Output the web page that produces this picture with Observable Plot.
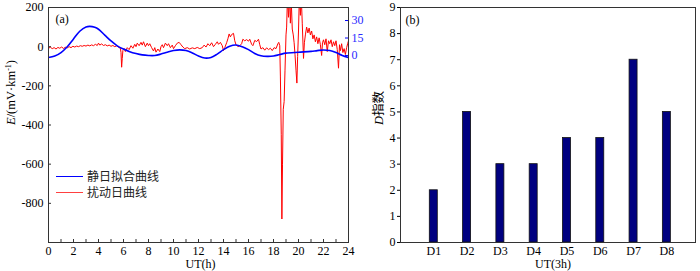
<!DOCTYPE html>
<html><head><meta charset="utf-8">
<script src="https://cdn.jsdelivr.net/npm/d3@7"></script>
<script src="https://cdn.jsdelivr.net/npm/@observablehq/plot@0.6"></script>
<style>
body{margin:0;background:#fff;}
#wrap{position:relative;width:700px;height:271px;overflow:hidden;background:#fff;}
#a,#b{position:absolute;top:0;}
#a{left:0;z-index:2;}
#b{left:360px;z-index:1;}
#wrap svg, #wrap svg text{font-family:"Liberation Serif","Times New Roman",serif !important;}
.leg{position:absolute;left:56px;z-index:3;font-family:"Noto Sans CJK SC";font-size:12px;line-height:16px;color:#222;}
.leg div{display:flex;align-items:center;height:16px;}
.leg span.sw{display:inline-block;width:27px;height:0;margin-right:4px;}
</style></head>
<body>
<div id="wrap"><div id="a"></div><div id="b"></div>
<div class="leg" style="top:168px">
 <div><span class="sw" style="border-top:1.5px solid #0000ff"></span><span id="l1"></span></div>
 <div><span class="sw" style="border-top:1.5px solid #ff4040"></span><span id="l2"></span></div>
</div>
</div>
<script>
// ---------- Data ----------
const legendLabels = ["静日拟合曲线", "扰动日曲线"];
const panelLabels = ["(a)", "(b)"];
const xTitleA = "UT(h)";
const xTitleB = "UT(3h)";
const xTicksA = [0,2,4,6,8,10,12,14,16,18,20,22,24];
const xMinorA = d3.range(0, 25, 1);
const yTicksA = [200, 0, -200, -400, -600, -800];
const yDomainA = [-1000, 200];
const rightTicks = [0, 15, 30];

// quiet-day fitted curve (right axis units): hour, value
const quietHour = [0,0.5,1,1.5,2,2.5,3,3.3,3.7,4,4.5,5,5.5,6,6.5,7,7.5,8,8.5,9,9.5,10,10.5,11,11.5,12,12.5,13,13.5,14,14.5,15,15.5,16,16.5,17,17.5,18,18.5,19,20,21,21.5,22,22.5,23,23.5,24];
const quietVal  = [-1.7,-0.5,2.5,7.5,14.2,20.8,24.5,25,24.2,22.5,17.5,12.5,8.3,5.5,3.3,1.7,0.5,0,0,1.2,2.8,4.2,4.8,4.2,2.2,-0.5,-2.2,-1.7,1.2,5,8,9,7.5,5,1.7,-0.3,-0.8,-0.5,0.8,2,2.8,3.5,4.2,4.7,4.2,2.5,0,-1.7];

// disturbed-day curve (mV/km): hour, value
const distHour = [0,0.15,0.3,0.45,0.6,0.75,0.9,1.05,1.2,1.35,1.5,1.65,1.8,1.95,2.1,2.25,2.4,2.55,2.7,2.85,3.0,3.15,3.3,3.45,3.6,3.75,3.9,4.0,4.1,4.25,4.4,4.55,4.7,4.85,5.0,5.15,5.3,5.45,5.6,5.75,5.8,5.85,5.9,5.95,6.05,6.15,6.3,6.45,6.6,6.75,6.9,7.0,7.1,7.25,7.4,7.5,7.6,7.75,7.9,8.0,8.1,8.25,8.4,8.5,8.6,8.75,8.9,9.0,9.1,9.2,9.35,9.5,9.6,9.75,9.9,10.0,10.15,10.3,10.45,10.6,10.75,10.9,11.1,11.3,11.5,11.7,11.9,12.1,12.3,12.45,12.6,12.75,12.9,13.05,13.2,13.35,13.5,13.6,13.75,13.9,14.0,14.1,14.25,14.35,14.45,14.55,14.65,14.8,14.9,15.0,15.15,15.3,15.45,15.55,15.7,15.85,16.0,16.1,16.25,16.35,16.5,16.65,16.8,16.9,17.0,17.15,17.3,17.45,17.6,17.75,17.9,18.05,18.2,18.35,18.42,18.5,18.55,18.62,18.67,18.72,18.78,18.85,18.92,19.0,19.05,19.12,19.2,19.28,19.35,19.42,19.5,19.58,19.65,19.72,19.8,19.87,19.93,20.0,20.07,20.15,20.22,20.3,20.4,20.47,20.55,20.65,20.75,20.85,20.95,21.05,21.15,21.25,21.35,21.45,21.55,21.65,21.75,21.85,21.92,22.0,22.1,22.2,22.3,22.4,22.5,22.6,22.7,22.8,22.9,23.0,23.1,23.2,23.28,23.36,23.45,23.55,23.65,23.75,23.85,23.93,24.0];
const distVal = [-8,-3,-10,-5,-12,-4,-8,-2,-9,-3,-6,0,-5,2,-2,3,0,5,2,6,3,8,4,9,5,12,6,18,8,14,6,10,4,8,2,6,0,4,-3,-8,-30,-105,-60,-20,-10,-25,-5,-15,5,-8,12,0,18,5,22,8,25,0,18,5,15,-5,-22,-5,-28,-12,-25,0,10,-5,18,5,15,-5,8,-10,5,18,22,10,-2,-10,-5,-12,-6,-10,-4,-10,-5,8,-2,15,5,20,0,12,25,12,22,5,-20,-5,20,40,65,50,62,68,30,10,0,5,15,38,30,36,28,38,12,5,32,26,38,10,-12,-5,-18,-6,-15,-8,-20,-5,-10,15,22,5,-150,-450,-880,-600,-320,-280,-120,60,100,260,150,260,120,240,90,60,20,-40,-120,-186,-50,80,260,160,260,120,-60,20,60,100,70,95,60,80,40,60,25,50,15,45,10,-45,20,35,10,40,-25,30,15,35,0,25,5,30,-15,-110,10,-20,15,-30,-10,-40,-5,15,30];

// panel (b)
const dCats = ["D1","D2","D3","D4","D5","D6","D7","D8"];
const dVals = [2,5,3,3,4,4,7,5];
const yTicksB = [0,1,2,3,4,5,6,7,8,9];

// ---------- Build ----------
const quiet = quietHour.map((h,i)=>({h, r: quietVal[i]}));
const dist = distHour.map((h,i)=>({h, v: distVal[i]}));
const bars = dCats.map((c,i)=>({c, i: i+1, v: dVals[i]}));

// right axis (quiet curve) mapped onto left scale
const R0 = -45, RK = 5.95;
const toLeft = r => R0 + RK*r;

const font = {fontSize: "12px", color: "black", background: "transparent", overflow: "visible"};

const WA = 372, HA = 271, mLA = 48, mRA = 24, mTA = 7, mBA = 29;
const innerWA = WA - mLA - mRA, innerHA = HA - mTA - mBA;

const plotA = Plot.plot({
  width: WA, height: HA, marginLeft: mLA, marginRight: mRA, marginTop: mTA, marginBottom: mBA,
  style: font,
  x: {domain: [0, 24]},
  y: {domain: yDomainA},
  marks: [
    Plot.line(dist, {x: "h", y: "v", stroke: "#ff0000", strokeWidth: 1, clip: true}),
    Plot.line(quiet, {x: "h", y: d => toLeft(d.r), stroke: "#0000ff", strokeWidth: 1.6, curve: "catmull-rom", clip: true}),
    Plot.frame({stroke: "#333", strokeWidth: 1}),
    Plot.tickX(xMinorA, {x: d => d, insetTop: innerHA - 3, stroke: "#333"}),
    Plot.tickY(yTicksA, {y: d => d, insetRight: innerWA - 3, stroke: "#333"}),
    Plot.tickY(rightTicks.map(toLeft), {y: d => d, insetLeft: innerWA - 3, stroke: "#0000ff"}),
    Plot.axisX({ticks: xTicksA, tickSize: 0, tickPadding: 4, tickFormat: d => d, label: null, fontSize: 12}),
    Plot.axisY({ticks: yTicksA, tickSize: 0, tickPadding: 5, tickFormat: d => d, label: null, fontSize: 12}),
    Plot.axisY({anchor: "right", ticks: rightTicks.map(toLeft), tickSize: 0, tickPadding: 3, tickFormat: (d,i) => rightTicks[i], label: null, color: "#2a2aff", fontSize: 12}),
    Plot.text([panelLabels[0]], {frameAnchor: "top-left", dx: 7, dy: 12, textAnchor: "start", lineAnchor: "middle", fontSize: 12}),
    Plot.text([xTitleA], {frameAnchor: "bottom", dx: 2, dy: 22, lineAnchor: "middle", fontSize: 12}),
    Plot.text(["YTITLE_A"], {frameAnchor: "left", dx: -38, rotate: -90, lineAnchor: "middle", fontSize: 12.5})
  ]
});
document.getElementById("a").appendChild(plotA);

const WB = 340, HB = 271, mLB = 40, mRB = 5, mTB = 7, mBB = 29;
const plotB = Plot.plot({
  width: WB, height: HB, marginLeft: mLB, marginRight: mRB, marginTop: mTB, marginBottom: mBB,
  style: font,
  x: {domain: [0, 8.86]},
  y: {domain: [0, 9]},
  marks: [
    Plot.rect(bars, {x1: d => d.i - 0.12, x2: d => d.i + 0.12, y1: 0, y2: "v", fill: "#000080", stroke: "#111", strokeWidth: 0.8}),
    Plot.frame({stroke: "#333", strokeWidth: 1}),
    Plot.axisY({ticks: yTicksB, tickSize: 3, tickPadding: 2, tickFormat: d => d, label: null, fontSize: 12}),
    Plot.axisX({ticks: bars.map(d => d.i), tickSize: 0, tickPadding: 4, tickFormat: (d,i) => dCats[i], label: null, fontSize: 12}),
    Plot.text([panelLabels[1]], {frameAnchor: "top-left", dx: 5, dy: 13, textAnchor: "start", lineAnchor: "middle", fontSize: 12}),
    Plot.text([xTitleB], {frameAnchor: "bottom", dx: 5, dy: 22, lineAnchor: "middle", fontSize: 12}),
    Plot.text(["YTITLE_B"], {frameAnchor: "left", dx: -22, rotate: -90, lineAnchor: "middle", fontSize: 12.5})
  ]
});
document.getElementById("b").appendChild(plotB);

function rich(svg, key, parts) {
  d3.select(svg).selectAll("text").filter(function(){ return this.textContent === key; }).each(function(){
    const t = d3.select(this); t.text(null);
    parts.forEach(p => {
      const s = t.append("tspan").text(p.t);
      if (p.i) s.attr("font-style", "italic");
      if (p.sup) s.attr("baseline-shift", "super").attr("font-size", "8px");
      if (p.f) s.attr("font-family", p.f);
    });
  });
}
rich(plotA, "YTITLE_A", [{t: "E", i: true}, {t: "/(mV·km"}, {t: "-1", sup: true}, {t: ")"}]);
rich(plotB, "YTITLE_B", [{t: "D", i: true}, {t: "指数", f: "'Noto Sans CJK SC'"}]);

document.getElementById("l1").textContent = legendLabels[0];
document.getElementById("l2").textContent = legendLabels[1];
</script>
</body></html>
